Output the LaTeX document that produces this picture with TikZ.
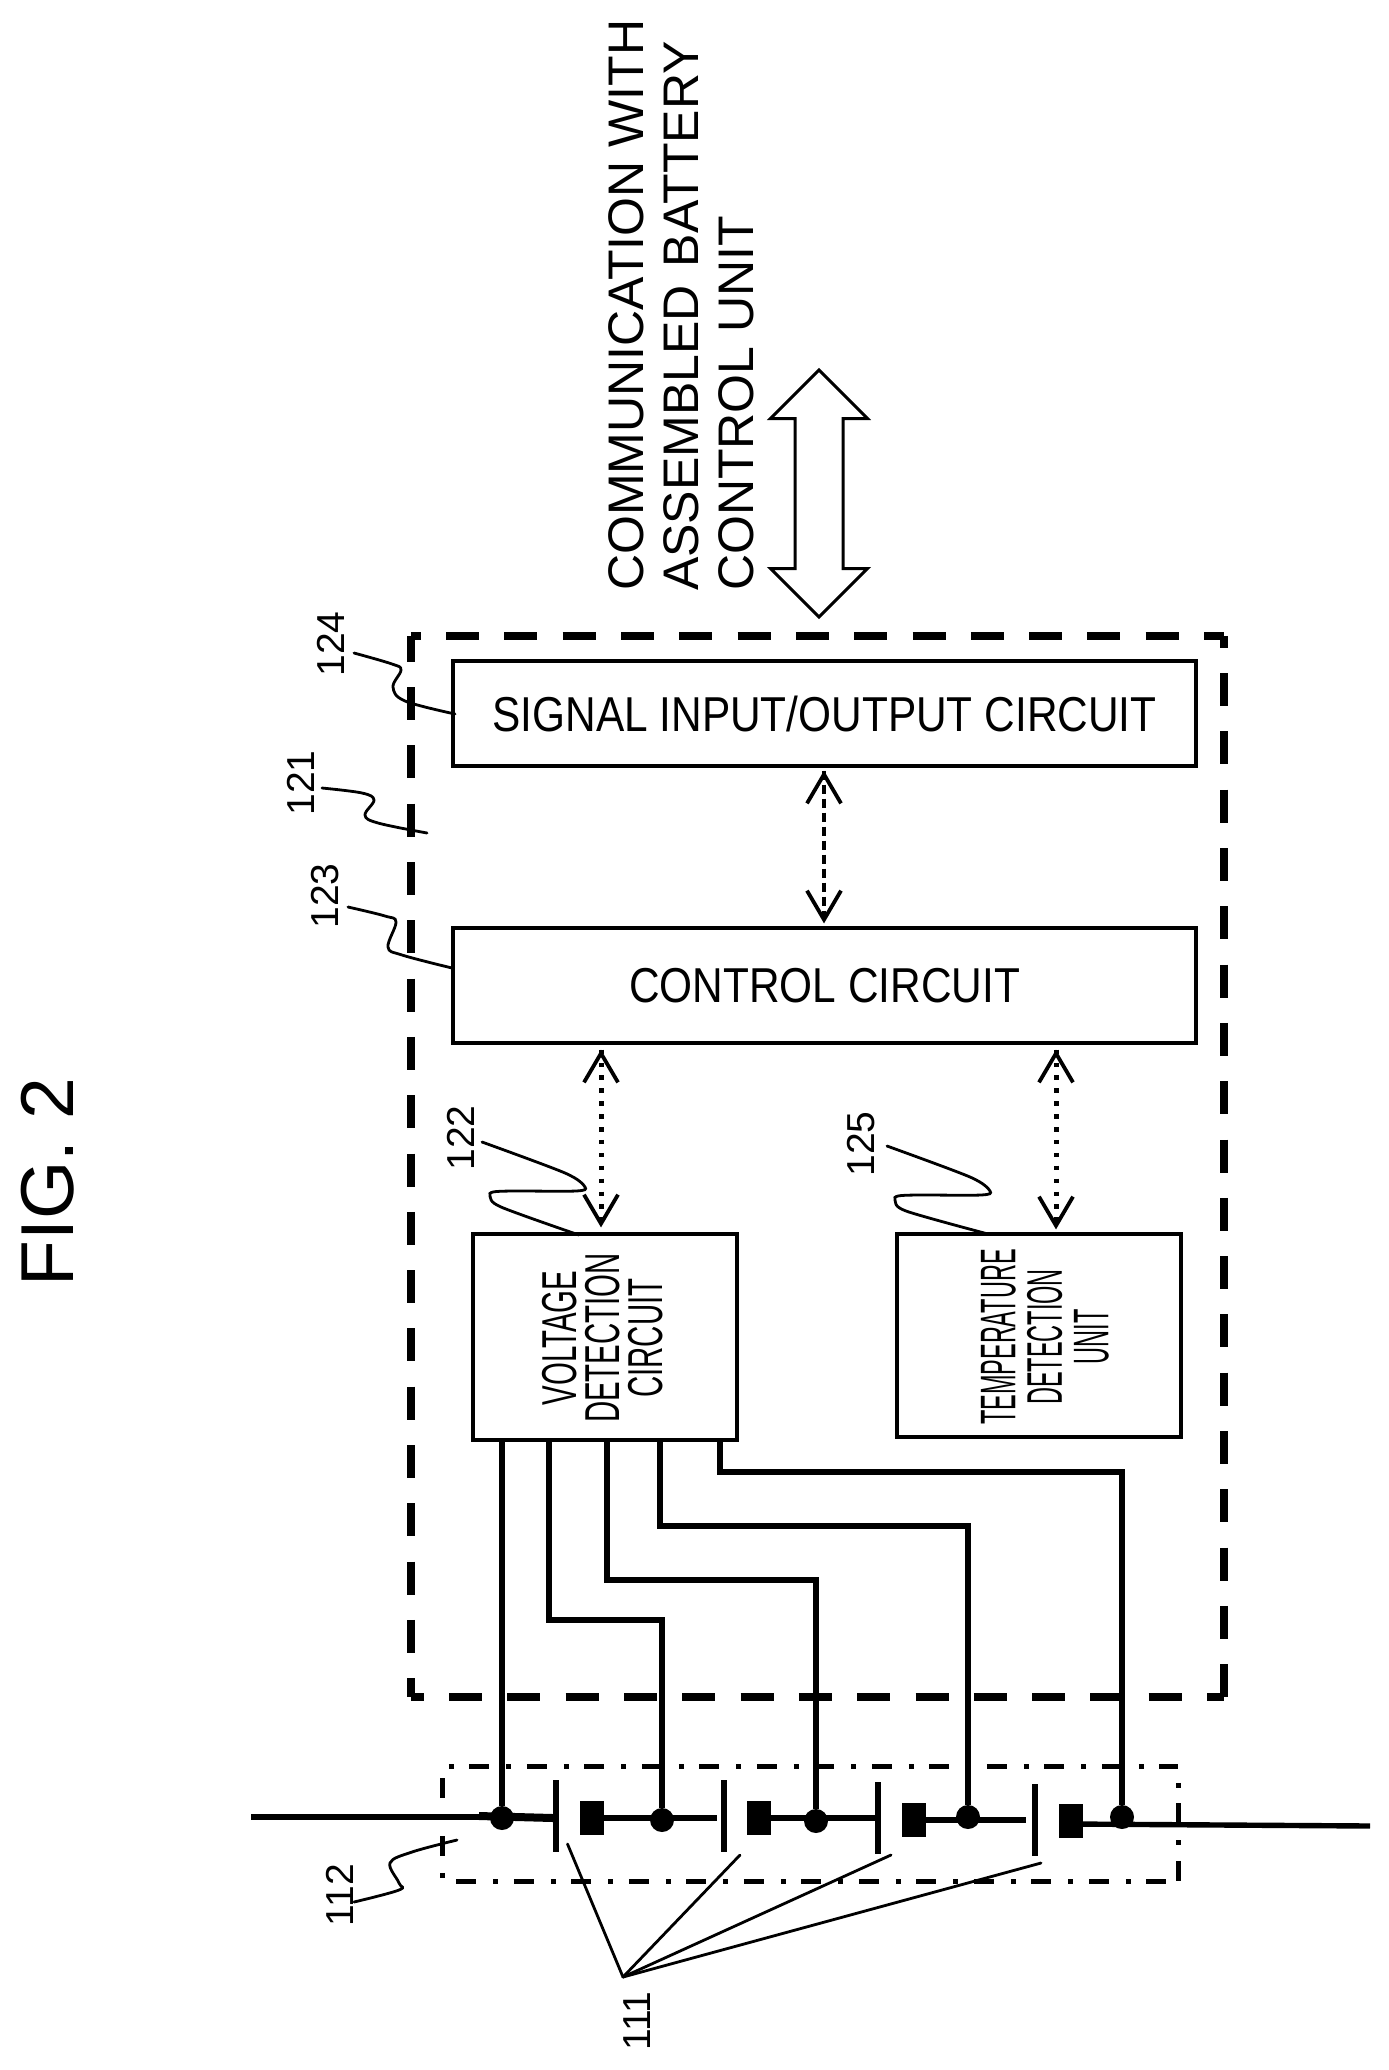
\documentclass[tikz,border=0pt]{standalone}
\usepackage{fontspec}
\setmainfont{Liberation Sans}
\newfontfamily\sigfont[FakeStretch=0.865]{Liberation Sans}
\newfontfamily\ctlfont[FakeStretch=0.865]{Liberation Sans}
\newfontfamily\voltfont[FakeStretch=0.60]{Liberation Sans}
\newfontfamily\tempfont[FakeStretch=0.47]{Liberation Sans}
\usetikzlibrary{arrows.meta,shapes.arrows,calc}
\tikzset{
  box/.style={draw=black,line width=3.2pt,inner sep=0pt,fill=white},
  boxtext/.style={font=\sigfont\fontsize{49}{49}\selectfont},
  reflabel/.style={rotate=90,inner sep=0pt,font=\fontsize{39}{39}\selectfont},
  leader/.style={line width=2.8pt,line cap=round},
  wire/.style={line width=5.6pt,line join=miter},
  bus/.style={line width=5.4pt},
  junction/.style={circle,fill=black,inner sep=0pt,minimum size=24pt},
  plate/.style={fill=black,inner sep=0pt,minimum width=5.4pt,minimum height=72pt},
  block/.style={fill=black,inner sep=0pt,minimum width=24pt,minimum height=34pt},
  unitedge/.style={line width=8pt,dash pattern=on 33pt off 25.3pt},
  packedge/.style={line width=5pt,dash pattern=on 20pt off 17pt on 5pt off 15.5pt},
  dotsA/.style={line width=4.8pt,dash pattern=on 9pt off 5pt},
  dotsB/.style={line width=5pt,dash pattern=on 4.5pt off 8.4pt},
  tips/.style={line width=3.8pt,dash pattern=on 0pt off 2000pt,
    {Straight Barb[length=29pt,width=34pt,line width=3.8pt]}-{Straight Barb[length=29pt,width=34pt,line width=3.8pt]}},
}
\begin{document}
\begin{tikzpicture}[x=1pt,y=-1pt]
\useasboundingbox (0,0) rectangle (1389,2070);
% title and top text
\node[rotate=90,inner sep=0pt,font=\fontsize{75}{75}\selectfont] (fig) at (48,1182) {FIG. 2};
\node[rotate=90,anchor=west,inner sep=0pt,align=left,font=\fontsize{50}{55}\selectfont] (comm) at (681,591)
  {COMMUNICATION WITH\\ASSEMBLED\hspace{4pt} BATTERY\\CONTROL UNIT};
\node[double arrow,rotate=90,draw=black,line width=3pt,inner xsep=0pt,inner ysep=22.5pt,minimum height=247pt,minimum width=94pt,
  double arrow head extend=24.5pt,double arrow tip angle=90] (bus) at (819,493.5) {};
% detection unit frame
\node[inner sep=0pt,minimum width=813pt,minimum height=1061pt] (unit) at (817.5,1166.5) {};
\draw[unitedge,dash phase=23pt] (unit.north west) -- (unit.north east);
\draw[unitedge,dash phase=21pt] (unit.north east) -- (unit.south east);
\draw[unitedge,dash phase=20pt] (unit.south west) -- (unit.south east);
\draw[unitedge,dash phase=7pt] (unit.north west) -- (unit.south west);
% cell pack frame
\node[inner sep=0pt,minimum width=735pt,minimum height=114pt] (pack) at (810.5,1824) {};
\draw[packedge,dash phase=31pt] (pack.north west) -- (pack.north east);
\draw[packedge,dash phase=21pt] (pack.north east) -- (pack.south east);
\draw[packedge,dash phase=44pt] (pack.south west) -- (pack.south east);
\draw[packedge,dash phase=46pt] (pack.north west) -- (pack.south west);
% circuit blocks
\node[box,boxtext,minimum width=743pt,minimum height=105pt] (sig) at (824.5,713.5) {\sigfont SIGNAL INPUT/OUTPUT CIRCUIT};
\node[box,boxtext,minimum width=743pt,minimum height=115pt] (ctl) at (824.5,985.5) {\ctlfont CONTROL CIRCUIT};
\node[box,minimum width=264pt,minimum height=206pt] (volt) at (605,1337) {};
\node[box,minimum width=284pt,minimum height=203pt] (temp) at (1039,1335.5) {};
\node[rotate=90,inner sep=0pt,align=center,font=\voltfont\fontsize{49}{43}\selectfont] (volttext) at (603,1338)
  {VOLTAGE\\DETECTION\\CIRCUIT};
\node[rotate=90,inner sep=0pt,align=center,font=\tempfont\fontsize{50}{46.5}\selectfont] (temptext) at (1045,1337)
  {TEMPERATURE\\DETECTION\\UNIT};
% dotted links
\coordinate (ax0) at (824,850);
\coordinate (ax1) at (601,1140);
\coordinate (ax2) at (1056,1140);
\draw[dotsA] (sig.south -| ax0) ++(0,3) -- ($(ctl.north -| ax0)+(0,-3)$);
\draw[tips,shorten <=3pt,shorten >=3pt] (sig.south -| ax0) -- (ctl.north -| ax0);
\draw[dotsB] (ctl.south -| ax1) ++(0,5) -- ($(volt.north -| ax1)+(0,-5)$);
\draw[tips,shorten <=5pt,shorten >=5pt] (ctl.south -| ax1) -- (volt.north -| ax1);
\draw[dotsB] (ctl.south -| ax2) ++(0,5) -- ($(temp.north -| ax2)+(0,-5)$);
\draw[tips,shorten <=5pt,shorten >=3pt] (ctl.south -| ax2) -- (temp.north -| ax2);
% cells
\node[plate] (p1) at (556,1815.5) {};
\node[plate] (p2) at (724,1815.5) {};
\node[plate] (p3) at (878,1818) {};
\node[plate] (p4) at (1035,1819.5) {};
\node[block] (b1) at (592,1818) {};
\node[block] (b2) at (759,1818) {};
\node[block] (b3) at (914,1820) {};
\node[block] (b4) at (1071,1821) {};
\node[junction] (d1) at (502,1818) {};
\node[junction] (d2) at (662,1820) {};
\node[junction] (d3) at (816,1821) {};
\node[junction] (d4) at (968,1817) {};
\node[junction] (d5) at (1122,1817) {};
\coordinate (busL) at (251,1817);
\coordinate (busR) at (1370,1826);
\coordinate (r4) at (1071,1824);
\draw[bus] (busL) -- (p1.west |- busL);
\draw[line width=8pt] (d1.center) ++(-23,-2) -- (p1.west |- d1.center);
\draw[bus,shorten >=4pt] (b1.east) -- (p2.west |- b1.east);
\draw[bus] (b2.east) -- (p3.west |- b2.east);
\draw[bus,shorten >=6pt] (b3.east) -- (p4.west |- b3.east);
\draw[bus] (r4) -- (busR);
% sense lines
\coordinate (t1) at (502,1440);
\coordinate (t2) at (549,1440);
\coordinate (t3) at (607,1440);
\coordinate (t4) at (660,1440);
\coordinate (t5) at (720,1440);
\draw[wire] (t1) -- (d1);
\draw[wire] (t2) -- (549,1620) -| (d2);
\draw[wire] (t3) -- (607,1580) -| (d3);
\draw[wire] (t4) -- (660,1526) -| (d4);
\draw[wire] (t5) -- (720,1472) -| (d5);
% reference numerals and leaders
\node[reflabel] (n124) at (331,644) {124};
\node[reflabel] (n121) at (301,783) {121};
\node[reflabel] (n123) at (325,896) {123};
\node[reflabel] (n122) at (461,1138) {122};
\node[reflabel] (n125) at (861,1144) {125};
\node[reflabel] (n112) at (340,1895) {112};
\node[reflabel] (n111) at (637,2021) {111};
\draw[leader] plot[smooth,tension=.6] coordinates {(354,653) (392,664) (401,670) (393,687) (405,701) (455,714)};
\draw[leader] plot[smooth,tension=.6] coordinates {(322,788) (362,793) (374,800) (365,815) (378,823) (427,833)};
\draw[leader] plot[smooth,tension=.6] coordinates {(348,907) (385,916) (396,922) (388,947) (402,955) (452,968)};
\draw[leader] plot[smooth,tension=.5] coordinates {(482,1142) (565,1173) (585,1187) (576,1191) (513,1191) (493,1192) (490,1196) (501,1207) (579,1235)};
\draw[leader] plot[smooth,tension=.5] coordinates {(887,1146) (970,1177) (990,1191) (981,1195) (918,1195) (898,1196) (895,1200) (906,1211) (988,1234)};
\draw[leader] plot[smooth,tension=.6] coordinates {(457,1840) (412,1852) (390,1863) (399,1883) (399,1890) (354,1902)};
\coordinate (c111) at (623,1977);
\coordinate (e1) at (567.5,1844);
\coordinate (e2) at (740,1855);
\coordinate (e3) at (891,1855);
\coordinate (e4) at (1041,1863);
\draw[leader] (c111) -- (e1);
\draw[leader] (c111) -- (e2);
\draw[leader] (c111) -- (e3);
\draw[leader] (c111) -- (e4);
\end{tikzpicture}
\end{document}
